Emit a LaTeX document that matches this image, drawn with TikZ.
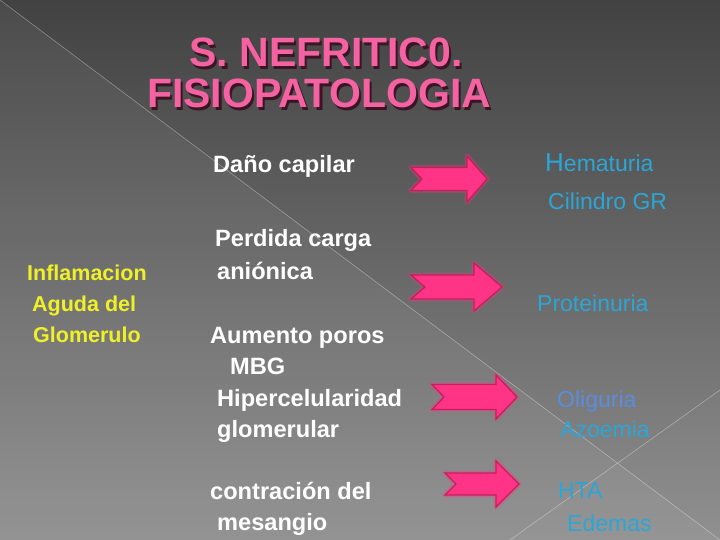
\documentclass[tikz,border=0pt]{standalone}
\usepackage{fontspec}
\setmainfont{Liberation Sans}
\definecolor{bgtop}{RGB}{66,66,66}
\definecolor{bgbot}{RGB}{142,142,142}
\definecolor{titlepink}{RGB}{244,98,162}
\definecolor{titleshadow}{RGB}{60,20,35}
\definecolor{yel}{RGB}{240,240,40}
\definecolor{skyblue}{RGB}{42,166,216}
\definecolor{lavblue}{RGB}{92,140,222}
\definecolor{arrowfill}{RGB}{255,52,134}
\definecolor{arrowedge}{RGB}{200,30,90}
\newcommand\shadowtxt[1]{\makebox[0pt][l]{\hspace{2.5pt}\raisebox{-2.5pt}{\textcolor{titleshadow}{#1}}}#1}
\newcommand\blockarrow[7]{%
  \path[arrowglow] (#1,#5-#6) -- (#3,#5-#6) -- (#3,#5-#7) -- (#4,#5) -- (#3,#5+#7) -- (#3,#5+#6) -- (#1,#5+#6) -- (#1+#2,#5) -- cycle;
  \path[arrowbody] (#1,#5-#6) -- (#3,#5-#6) -- (#3,#5-#7) -- (#4,#5) -- (#3,#5+#7) -- (#3,#5+#6) -- (#1,#5+#6) -- (#1+#2,#5) -- cycle;
}
\begin{document}
\begin{tikzpicture}[x=1pt,y=-1pt,
  decoline/.style={draw=white,opacity=0.35,line width=0.6pt},
  titletext/.style={anchor=base,inner sep=0pt,text=titlepink,font=\fontsize{41}{41}\selectfont\bfseries},
  bodytext/.style={anchor=base west,inner sep=0pt,text=white,font=\fontsize{23.6}{23.6}\selectfont\bfseries},
  lefttext/.style={anchor=base west,inner sep=0pt,text=yel,font=\fontsize{21.5}{21.5}\selectfont\bfseries},
  righttext/.style={anchor=base west,inner sep=0pt,text=skyblue,font=\fontsize{23}{23}\selectfont},
  arrowglow/.style={draw=arrowfill,opacity=0.3,line width=5pt,line join=round},
  arrowbody/.style={fill=arrowfill,draw=arrowedge,line width=1.3pt,line join=miter}]
\useasboundingbox (0,0) rectangle (720,540);
% background
\shade[top color=bgtop,bottom color=bgbot] (0,0) rectangle (720,540);
\fill[white,opacity=0.05] (0,0) -- (720,540) -- (0,540) -- cycle;
\fill[white,opacity=0.02] (510,540) -- (720,390) -- (720,540) -- cycle;
\draw[decoline] (0,0) -- (720,540);
\draw[decoline] (510,540) -- (720,390);
% title
\node[titletext] (t1) at (326,67) {\shadowtxt{S. NEFRITIC0.}};
\node[titletext] (t2) at (319,108) {\shadowtxt{FISIOPATOLOGIA}};
% left column
\node[lefttext] (l1) at (27,280) {Inflamacion};
\node[lefttext] (l2) at (32,311) {Aguda del};
\node[lefttext] (l3) at (33,342) {Glomerulo};
% middle column
\node[bodytext] (m1) at (213,173) {Daño capilar};
\node[bodytext] (m2) at (215,247) {Perdida carga};
\node[bodytext] (m3) at (217,279) {aniónica};
\node[bodytext] (m4) at (210,343) {Aumento poros};
\node[bodytext] (m5) at (230,374) {MBG};
\node[bodytext] (m6) at (217,406) {Hipercelularidad};
\node[bodytext] (m7) at (217,437) {glomerular};
\node[bodytext] (m8) at (210,499) {contración del};
\node[bodytext] (m9) at (217,530) {mesangio};
% arrows
\blockarrow{411}{11}{467}{487}{179}{11.5}{23}
\blockarrow{411}{14}{474}{502}{287}{12}{24}
\blockarrow{432}{12}{496}{517}{397}{12.5}{22}
\blockarrow{445}{11}{496}{519}{484}{11}{23}
% right column
\node[righttext] (r1) at (545,172) {{\fontsize{26}{26}\selectfont H}ematuria};
\node[righttext] (r2) at (548,210) {Cilindro GR};
\node[righttext] (r3) at (537,311) {Proteinuria};
\node[righttext,text=lavblue] (r4) at (557,407) {Oliguria};
\node[righttext] (r5) at (560,437) {Azoemia};
\node[righttext] (r6) at (558,498) {HTA};
\node[righttext] (r7) at (567,531) {Edemas};
\end{tikzpicture}
\end{document}
